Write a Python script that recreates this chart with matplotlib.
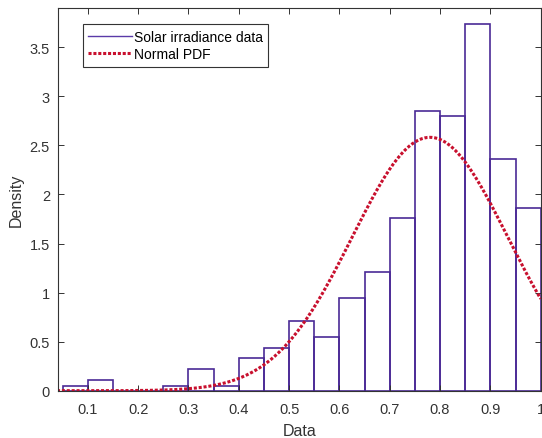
import numpy as np
import matplotlib
matplotlib.use("Agg")
from matplotlib import pyplot as plt
from matplotlib.lines import Line2D

plt.rcParams["font.family"] = ["Liberation Sans", "DejaVu Sans"]

# histogram: bin edges and density values
bin_edges = [0.05, 0.10, 0.15, 0.20, 0.25, 0.30, 0.35, 0.40, 0.45, 0.50,
             0.55, 0.60, 0.65, 0.70, 0.75, 0.80, 0.85, 0.90, 0.95, 1.00]
density = [0.05, 0.11, 0.0, 0.0, 0.05, 0.22, 0.05, 0.33, 0.44, 0.71,
           0.55, 0.94, 1.21, 1.76, 2.85, 2.80, 3.74, 2.36, 1.86]

# fitted normal
mu = 0.78
sigma = 0.1545

x_ticks = [0.1, 0.2, 0.3, 0.4, 0.5, 0.6, 0.7, 0.8, 0.9, 1.0]
x_labels = ["0.1", "0.2", "0.3", "0.4", "0.5", "0.6", "0.7", "0.8", "0.9", "1"]
y_ticks = [0, 0.5, 1, 1.5, 2, 2.5, 3, 3.5]
y_labels = ["0", "0.5", "1", "1.5", "2", "2.5", "3", "3.5"]
legend_labels = ["Solar irradiance data", "Normal PDF"]

grey = "#333333"
edge = "#4a2a96"
red = "#c8102e"

fig = plt.figure(figsize=(5.42, 4.39), dpi=100)
ax = fig.add_axes([0.1076, 0.1077, 0.89, 0.8718])

lefts = np.array(bin_edges[:-1])
widths = np.diff(bin_edges)
ax.bar(lefts, density, width=widths, align="edge", facecolor="none",
       edgecolor=edge, linewidth=1.2)

xs = np.linspace(0.0, 1.0, 400)
pdf = np.exp(-(xs - mu) ** 2 / (2 * sigma ** 2)) / (sigma * np.sqrt(2 * np.pi))
ax.plot(xs, pdf, linestyle=(0, (1, 0.6)), color=red, linewidth=2.2)

ax.set_xlim(0.0415, 1.0)
ax.set_ylim(0, 3.9)
ax.set_xticks(x_ticks)
ax.set_xticklabels(x_labels)
ax.set_yticks(y_ticks)
ax.set_yticklabels(y_labels)
ax.tick_params(direction="in", top=True, right=True, length=4, width=0.7,
               colors=grey, labelsize=10.5)
ax.tick_params(axis="x", pad=8)
ax.tick_params(axis="y", pad=6)
for s in ax.spines.values():
    s.set_color(grey)
    s.set_linewidth(0.8)

ax.set_xlabel("Data", fontsize=11.5, color=grey, labelpad=5)
ax.set_ylabel("Density", fontsize=11.5, color=grey, labelpad=4)

# legend shows a line for the histogram, as in the reference
handles = [Line2D([], [], color="#5a3aa8", linewidth=1.0),
           Line2D([], [], linestyle=(0, (1, 0.6)), color=red, linewidth=2.2)]
leg = ax.legend(handles, legend_labels,
                loc="upper left", bbox_to_anchor=(0.051, 0.958), fontsize=10,
                fancybox=False, framealpha=1, edgecolor=grey,
                handlelength=3.1, handletextpad=0.15, borderpad=0.4,
                labelspacing=0.25, borderaxespad=0)
leg.get_frame().set_linewidth(0.8)

fig.savefig("out.png", dpi=100)
